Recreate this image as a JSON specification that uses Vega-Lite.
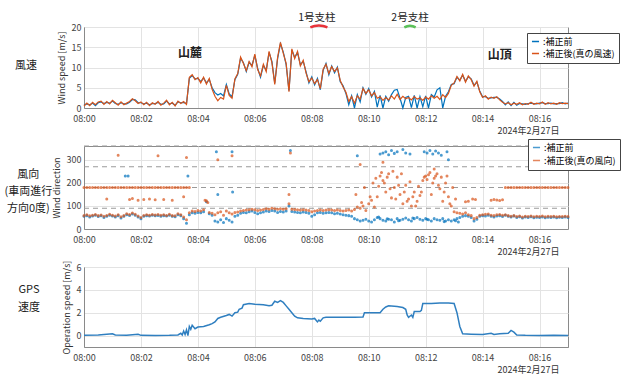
{
"$schema": "https://vega.github.io/schema/vega-lite/v6.json",
"padding": {"left": 3, "top": 12, "right": 2, "bottom": 2},
"bounds": "flush",
"spacing": 38,
"resolve": {"scale": {"color": "independent"}},
"config": {
  "font": "Noto Sans CJK JP",
  "view": {"stroke": "#8a8a8a", "strokeWidth": 1},
  "axis": {"labelFontSize": 9, "labelColor": "#444", "titleFontSize": 9, "titleFontWeight": "normal", "titleColor": "#333", "gridColor": "#e3e3e3", "domainColor": "#8a8a8a", "ticks": false, "labelPadding": 3, "labelFlush": false},
  "title": {"fontWeight": "normal", "color": "#222"}
},
"datasets": {
"ws": [
{"m":0,"a":0.7,"b":0.5},{"m":0.1,"a":1.0,"b":1.2},{"m":0.2,"a":0.8,"b":0.6},{"m":0.3,"a":1.2,"b":1.4},{"m":0.4,"a":0.6,"b":0.8},{"m":0.5,"a":1.3,"b":1.5},{"m":0.6,"a":1.5,"b":1.7},{"m":0.7,"a":1.1,"b":0.9},{"m":0.8,"a":1.4,"b":1.6},{"m":0.9,"a":1.2,"b":1.0},
{"m":1.0,"a":1.7,"b":1.9},{"m":1.1,"a":1.1,"b":1.3},{"m":1.2,"a":0.9,"b":0.7},{"m":1.3,"a":1.3,"b":1.5},{"m":1.4,"a":1.0,"b":0.8},{"m":1.5,"a":1.0,"b":1.2},{"m":1.6,"a":1.4,"b":1.6},{"m":1.7,"a":2.1,"b":2.3},{"m":1.8,"a":2.0,"b":1.8},{"m":1.9,"a":1.3,"b":1.1},
{"m":2.0,"a":1.3,"b":1.5},{"m":2.1,"a":1.0,"b":0.8},{"m":2.2,"a":1.2,"b":1.4},{"m":2.3,"a":0.8,"b":0.6},{"m":2.4,"a":1.1,"b":1.3},{"m":2.5,"a":1.1,"b":0.9},{"m":2.6,"a":1.4,"b":1.6},{"m":2.7,"a":0.9,"b":0.7},{"m":2.8,"a":1.0,"b":1.2},{"m":2.9,"a":1.7,"b":1.9},
{"m":3.0,"a":1.0,"b":0.8},{"m":3.1,"a":1.2,"b":1.4},{"m":3.2,"a":0.7,"b":0.5},{"m":3.3,"a":1.5,"b":1.7},{"m":3.4,"a":1.3,"b":1.1},{"m":3.5,"a":1.4,"b":1.6},{"m":3.6,"a":1.1,"b":0.9},{"m":3.7,"a":7.3,"b":7.6},{"m":3.8,"a":8.0,"b":8.2},{"m":3.9,"a":7.2,"b":7.0},
{"m":4.0,"a":7.3,"b":7.5},{"m":4.1,"a":6.5,"b":6.2},{"m":4.2,"a":7.4,"b":7.6},{"m":4.3,"a":6.2,"b":5.9},{"m":4.4,"a":7.0,"b":7.3},{"m":4.5,"a":5.0,"b":4.6},{"m":4.6,"a":3.8,"b":2.9},{"m":4.7,"a":3.2,"b":1.8},{"m":4.8,"a":3.6,"b":2.6},{"m":4.9,"a":3.0,"b":2.2},
{"m":5.0,"a":5.8,"b":5.6},{"m":5.1,"a":3.5,"b":3.1},{"m":5.2,"a":2.8,"b":2.4},{"m":5.3,"a":7.0,"b":7.2},{"m":5.4,"a":8.3,"b":8.5},{"m":5.5,"a":12.3,"b":12.6},{"m":5.6,"a":11.2,"b":11.0},{"m":5.7,"a":9.0,"b":9.2},{"m":5.8,"a":11.3,"b":11.5},{"m":5.9,"a":10.5,"b":10.2},
{"m":6.0,"a":13.0,"b":13.3},{"m":6.1,"a":9.8,"b":9.5},{"m":6.2,"a":7.6,"b":7.9},{"m":6.3,"a":10.5,"b":10.8},{"m":6.4,"a":9.3,"b":9.0},{"m":6.5,"a":13.7,"b":14.0},{"m":6.6,"a":11.5,"b":11.2},{"m":6.7,"a":6.1,"b":5.8},{"m":6.8,"a":12.2,"b":12.5},{"m":6.9,"a":15.9,"b":16.2},
{"m":7.0,"a":13.8,"b":13.5},{"m":7.1,"a":10.7,"b":11.0},{"m":7.2,"a":4.3,"b":4.0},{"m":7.3,"a":14.3,"b":14.6},{"m":7.4,"a":12.5,"b":12.2},{"m":7.5,"a":13.7,"b":14.0},{"m":7.6,"a":10.7,"b":10.4},{"m":7.7,"a":11.5,"b":11.8},{"m":7.8,"a":8.9,"b":8.6},{"m":7.9,"a":6.2,"b":6.5},
{"m":8.0,"a":7.7,"b":7.4},{"m":8.1,"a":5.7,"b":6.0},{"m":8.2,"a":7.3,"b":7.0},{"m":8.3,"a":4.5,"b":4.8},{"m":8.4,"a":9.3,"b":9.6},{"m":8.5,"a":11.0,"b":10.8},{"m":8.6,"a":8.2,"b":8.5},{"m":8.7,"a":10.4,"b":10.2},{"m":8.8,"a":8.7,"b":9.0},{"m":8.9,"a":10.1,"b":9.9},
{"m":9.0,"a":6.5,"b":6.8},{"m":9.1,"a":5.5,"b":5.2},{"m":9.2,"a":3.6,"b":3.9},{"m":9.3,"a":0.8,"b":1.6},{"m":9.4,"a":3.0,"b":2.8},{"m":9.5,"a":0.0,"b":1.2},{"m":9.6,"a":3.3,"b":3.0},{"m":9.7,"a":1.5,"b":2.2},{"m":9.8,"a":5.0,"b":4.8},{"m":9.9,"a":3.4,"b":3.6},
{"m":10.0,"a":4.8,"b":4.5},{"m":10.1,"a":2.7,"b":3.0},{"m":10.2,"a":4.1,"b":3.8},{"m":10.3,"a":0.2,"b":2.4},{"m":10.4,"a":3.1,"b":2.8},{"m":10.5,"a":0.0,"b":1.9},{"m":10.6,"a":2.9,"b":2.6},{"m":10.7,"a":1.7,"b":2.0},{"m":10.8,"a":3.3,"b":3.0},{"m":10.9,"a":4.4,"b":2.2},
{"m":11.0,"a":4.6,"b":3.4},{"m":11.1,"a":2.4,"b":2.1},{"m":11.2,"a":0.0,"b":2.9},{"m":11.3,"a":2.6,"b":2.3},{"m":11.4,"a":2.9,"b":2.6},{"m":11.5,"a":0.1,"b":2.0},{"m":11.6,"a":3.1,"b":2.8},{"m":11.7,"a":0.0,"b":2.2},{"m":11.8,"a":2.8,"b":2.5},{"m":11.9,"a":0.3,"b":1.9},
{"m":12.0,"a":3.0,"b":2.7},{"m":12.1,"a":0.0,"b":2.2},{"m":12.2,"a":3.3,"b":3.0},{"m":12.3,"a":2.7,"b":2.4},{"m":12.4,"a":4.5,"b":2.9},{"m":12.5,"a":5.0,"b":2.1},{"m":12.6,"a":0.0,"b":3.3},{"m":12.7,"a":2.9,"b":2.6},{"m":12.8,"a":4.0,"b":3.6},{"m":12.9,"a":5.8,"b":5.6},
{"m":13.0,"a":6.0,"b":6.2},{"m":13.1,"a":7.6,"b":7.8},{"m":13.2,"a":6.9,"b":6.7},{"m":13.3,"a":8.1,"b":8.3},{"m":13.4,"a":6.6,"b":6.4},{"m":13.5,"a":7.7,"b":7.9},{"m":13.6,"a":7.2,"b":7.0},{"m":13.7,"a":5.6,"b":5.4},{"m":13.8,"a":6.4,"b":6.6},{"m":13.9,"a":4.2,"b":4.0},
{"m":14.0,"a":2.8,"b":2.6},{"m":14.1,"a":2.8,"b":3.0},{"m":14.2,"a":2.4,"b":2.2},{"m":14.3,"a":2.5,"b":2.7},{"m":14.4,"a":2.6,"b":2.4},{"m":14.5,"a":2.6,"b":2.8},{"m":14.6,"a":2.2,"b":2.0},{"m":14.7,"a":1.6,"b":1.4},{"m":14.8,"a":0.8,"b":1.0},{"m":14.9,"a":1.5,"b":1.3},
{"m":15.0,"a":0.6,"b":0.8},{"m":15.1,"a":1.4,"b":1.2},{"m":15.2,"a":0.7,"b":0.9},{"m":15.3,"a":1.1,"b":1.3},{"m":15.4,"a":1.0,"b":0.8},{"m":15.5,"a":0.9,"b":1.1},{"m":15.6,"a":1.1,"b":0.9},{"m":15.7,"a":1.2,"b":1.4},{"m":15.8,"a":1.1,"b":0.9},{"m":15.9,"a":1.0,"b":1.2},
{"m":16.0,"a":1.2,"b":1.0},{"m":16.1,"a":1.3,"b":1.5},{"m":16.2,"a":1.1,"b":0.9},{"m":16.3,"a":1.1,"b":1.3},{"m":16.4,"a":1.2,"b":1.0},{"m":16.5,"a":1.0,"b":1.2},{"m":16.6,"a":1.1,"b":0.9},{"m":16.7,"a":1.1,"b":1.3},{"m":16.8,"a":1.3,"b":1.1},{"m":16.9,"a":1.0,"b":1.2},{"m":17.0,"a":1.2,"b":1.1}
],
"ann": [
{"m":3.72,"v":13.6,"t":"山麓","k":"big"},{"m":14.6,"v":13.1,"t":"山頂","k":"big"},
{"m":8.18,"v":22.3,"t":"1号支柱","k":"small"},{"m":11.45,"v":22.3,"t":"2号支柱","k":"small"}
],
"arc": [
{"m":7.95,"v":19.9,"g":"r"},{"m":8.1,"v":20.25,"g":"r"},{"m":8.25,"v":20.35,"g":"r"},{"m":8.4,"v":20.25,"g":"r"},{"m":8.55,"v":19.9,"g":"r"},
{"m":11.25,"v":19.9,"g":"g"},{"m":11.35,"v":20.2,"g":"g"},{"m":11.45,"v":20.3,"g":"g"},{"m":11.55,"v":20.2,"g":"g"},{"m":11.65,"v":19.9,"g":"g"}
],
"wd": [
{"m":0,"a":55,"b":58},{"m":0.1,"a":58,"b":62},{"m":0.2,"a":52,"b":57},{"m":0.3,"a":56,"b":60},{"m":0.4,"a":60,"b":63},{"m":0.5,"a":54,"b":58},{"m":0.6,"a":57,"b":61},{"m":0.7,"a":50,"b":55},{"m":0.8,"a":55,"b":59},{"m":0.9,"a":60,"b":64},
{"m":1.0,"a":56,"b":60},{"m":1.1,"a":52,"b":56},{"m":1.2,"a":58,"b":62},{"m":1.3,"a":48,"b":53},{"m":1.4,"a":55,"b":58},{"m":1.5,"a":62,"b":66},{"m":1.6,"a":59,"b":63},{"m":1.7,"a":65,"b":69},{"m":1.8,"a":60,"b":64},{"m":1.9,"a":52,"b":56},
{"m":2.0,"a":45,"b":50},{"m":2.1,"a":55,"b":59},{"m":2.2,"a":58,"b":62},{"m":2.3,"a":56,"b":60},{"m":2.4,"a":60,"b":63},{"m":2.5,"a":57,"b":61},{"m":2.6,"a":59,"b":63},{"m":2.7,"a":55,"b":60},{"m":2.8,"a":58,"b":62},{"m":2.9,"a":56,"b":59},
{"m":3.0,"a":60,"b":64},{"m":3.1,"a":55,"b":58},{"m":3.2,"a":53,"b":57},{"m":3.3,"a":62,"b":66},{"m":3.4,"a":58,"b":62},{"m":3.5,"a":45,"b":52},{"m":3.6,"a":25,"b":40},{"m":3.7,"a":62,"b":70},{"m":3.8,"a":70,"b":78},{"m":3.9,"a":68,"b":76},
{"m":4.0,"a":72,"b":80},{"m":4.1,"a":70,"b":78},{"m":4.2,"a":75,"b":83},{"m":4.3,"a":118,"b":122},{"m":4.4,"a":66,"b":72},{"m":4.5,"a":60,"b":68},{"m":4.6,"a":35,"b":62},{"m":4.7,"a":30,"b":70},{"m":4.8,"a":40,"b":75},{"m":4.9,"a":28,"b":60},
{"m":5.0,"a":45,"b":78},{"m":5.1,"a":38,"b":70},{"m":5.2,"a":30,"b":65},{"m":5.3,"a":55,"b":72},{"m":5.4,"a":60,"b":74},{"m":5.5,"a":68,"b":78},{"m":5.6,"a":72,"b":80},{"m":5.7,"a":70,"b":82},{"m":5.8,"a":75,"b":84},{"m":5.9,"a":78,"b":86},
{"m":6.0,"a":72,"b":84},{"m":6.1,"a":66,"b":80},{"m":6.2,"a":70,"b":82},{"m":6.3,"a":74,"b":85},{"m":6.4,"a":78,"b":88},{"m":6.5,"a":76,"b":86},{"m":6.6,"a":80,"b":90},{"m":6.7,"a":78,"b":88},{"m":6.8,"a":72,"b":86},{"m":6.9,"a":76,"b":88},
{"m":7.0,"a":74,"b":86},{"m":7.1,"a":78,"b":88},{"m":7.2,"a":100,"b":110},{"m":7.3,"a":76,"b":86},{"m":7.4,"a":74,"b":85},{"m":7.5,"a":72,"b":84},{"m":7.6,"a":70,"b":82},{"m":7.7,"a":74,"b":84},{"m":7.8,"a":72,"b":82},{"m":7.9,"a":68,"b":80},
{"m":8.0,"a":55,"b":75},{"m":8.1,"a":62,"b":78},{"m":8.2,"a":70,"b":80},{"m":8.3,"a":72,"b":82},{"m":8.4,"a":68,"b":80},{"m":8.5,"a":70,"b":82},{"m":8.6,"a":72,"b":84},{"m":8.7,"a":70,"b":82},{"m":8.8,"a":66,"b":80},{"m":8.9,"a":68,"b":82},
{"m":9.0,"a":65,"b":80},{"m":9.1,"a":62,"b":78},{"m":9.2,"a":60,"b":80},{"m":9.3,"a":58,"b":82},{"m":9.4,"a":55,"b":78},{"m":9.5,"a":45,"b":85},{"m":9.6,"a":40,"b":95},{"m":9.7,"a":35,"b":90},{"m":9.8,"a":38,"b":100},{"m":9.9,"a":42,"b":80},
{"m":10.0,"a":35,"b":110},{"m":10.1,"a":30,"b":125},{"m":10.2,"a":40,"b":95},{"m":10.3,"a":50,"b":140},{"m":10.4,"a":45,"b":230},{"m":10.5,"a":38,"b":210},{"m":10.6,"a":35,"b":160},{"m":10.7,"a":42,"b":240},{"m":10.8,"a":40,"b":135},{"m":10.9,"a":30,"b":180},
{"m":11.0,"a":45,"b":225},{"m":11.1,"a":38,"b":150},{"m":11.2,"a":42,"b":110},{"m":11.3,"a":48,"b":190},{"m":11.4,"a":40,"b":130},{"m":11.5,"a":35,"b":100},{"m":11.6,"a":45,"b":160},{"m":11.7,"a":50,"b":120},{"m":11.8,"a":42,"b":145},{"m":11.9,"a":38,"b":210},
{"m":12.0,"a":45,"b":230},{"m":12.1,"a":40,"b":235},{"m":12.2,"a":35,"b":150},{"m":12.3,"a":45,"b":220},{"m":12.4,"a":40,"b":240},{"m":12.5,"a":38,"b":175},{"m":12.6,"a":45,"b":120},{"m":12.7,"a":35,"b":200},{"m":12.8,"a":40,"b":140},{"m":12.9,"a":35,"b":100},
{"m":13.0,"a":40,"b":75},{"m":13.1,"a":45,"b":70},{"m":13.2,"a":50,"b":68},{"m":13.3,"a":55,"b":65},{"m":13.4,"a":58,"b":70},{"m":13.5,"a":55,"b":62},{"m":13.6,"a":50,"b":58},{"m":13.7,"a":35,"b":45},{"m":13.8,"a":42,"b":50},{"m":13.9,"a":55,"b":60},
{"m":14.0,"a":58,"b":62},{"m":14.1,"a":56,"b":64},{"m":14.2,"a":60,"b":65},{"m":14.3,"a":55,"b":60},{"m":14.4,"a":52,"b":58},{"m":14.5,"a":56,"b":62},{"m":14.6,"a":58,"b":63},{"m":14.7,"a":54,"b":60},{"m":14.8,"a":60,"b":62},{"m":14.9,"a":55,"b":58},
{"m":15.0,"a":52,"b":55},{"m":15.1,"a":56,"b":58},{"m":15.2,"a":50,"b":54},{"m":15.3,"a":53,"b":56},{"m":15.4,"a":48,"b":52},{"m":15.5,"a":52,"b":55},{"m":15.6,"a":50,"b":54},{"m":15.7,"a":53,"b":56},{"m":15.8,"a":49,"b":53},{"m":15.9,"a":51,"b":55},
{"m":16.0,"a":50,"b":54},{"m":16.1,"a":52,"b":56},{"m":16.2,"a":49,"b":53},{"m":16.3,"a":51,"b":55},{"m":16.4,"a":50,"b":54},{"m":16.5,"a":52,"b":55},{"m":16.6,"a":49,"b":53},{"m":16.7,"a":51,"b":54},{"m":16.8,"a":50,"b":54},{"m":16.9,"a":52,"b":55},{"m":17.0,"a":50,"b":54},
{"m":1.45,"a":230},{"m":1.55,"a":230},{"m":3.65,"a":230},{"m":4.65,"a":335},{"m":4.7,"a":150},{"m":5.2,"a":335},{"m":5.22,"a":160},{"m":7.25,"a":340},{"m":9.6,"a":318},
{"m":10.4,"a":325},{"m":10.5,"a":330},{"m":10.6,"a":335},{"m":10.7,"a":322},{"m":10.8,"a":340},{"m":10.9,"a":328},{"m":11.0,"a":335},{"m":11.2,"a":345},{"m":11.3,"a":330},{"m":11.45,"a":325},
{"m":11.95,"a":335},{"m":12.05,"a":330},{"m":12.15,"a":340},{"m":12.25,"a":325},{"m":12.35,"a":338},{"m":12.45,"a":330},{"m":12.55,"a":320},{"m":12.75,"a":335},{"m":12.8,"a":300},
{"m":10.35,"a":52},{"m":10.65,"a":44},{"m":11.05,"a":36},{"m":11.55,"a":48},{"m":12.05,"a":42},{"m":12.65,"a":32},{"m":13.05,"a":36},{"m":13.15,"a":30},
{"m":1.2,"b":320},{"m":2.6,"b":318},{"m":3.6,"b":310},{"m":4.7,"b":300},{"m":5.2,"b":318},{"m":7.25,"b":330},
{"m":0.8,"b":130},{"m":1.6,"b":128},{"m":1.7,"b":132},{"m":1.9,"b":125},{"m":2.1,"b":128},{"m":2.3,"b":130},{"m":2.5,"b":127},{"m":2.8,"b":128},{"m":3.1,"b":125},{"m":3.5,"b":140},{"m":4.25,"b":125},{"m":4.35,"b":115},{"m":7.2,"b":150},
{"m":9.55,"b":150},{"m":9.75,"b":115},{"m":9.85,"b":180},{"m":10.05,"b":140},{"m":10.15,"b":200},{"m":10.25,"b":220},{"m":10.35,"b":185},{"m":10.45,"b":245},{"m":10.55,"b":200},{"m":10.65,"b":225},{"m":10.75,"b":175},{"m":10.85,"b":250},{"m":10.95,"b":130},
{"m":11.05,"b":190},{"m":11.15,"b":240},{"m":11.25,"b":160},{"m":11.35,"b":120},{"m":11.45,"b":205},{"m":11.55,"b":140},{"m":11.65,"b":100},{"m":11.75,"b":185},{"m":11.85,"b":160},{"m":11.95,"b":225},
{"m":12.05,"b":215},{"m":12.15,"b":245},{"m":12.25,"b":200},{"m":12.35,"b":230},{"m":12.45,"b":190},{"m":12.55,"b":225},{"m":12.65,"b":160},{"m":12.75,"b":230},{"m":12.85,"b":110},{"m":12.95,"b":180},{"m":13.05,"b":130},
{"m":13.4,"b":118},{"m":13.5,"b":120},{"m":13.65,"b":130},{"m":13.75,"b":128},{"m":14.3,"b":125},{"m":14.4,"b":128},{"m":14.5,"b":126},{"m":14.6,"b":124},{"m":14.7,"b":127},{"m":9.7,"b":280},{"m":10.5,"b":290},{"m":12.3,"b":260},
{"m":0,"b":180},{"m":0.1,"b":180},{"m":0.2,"b":180},{"m":0.3,"b":180},{"m":0.4,"b":180},{"m":0.5,"b":180},{"m":0.6,"b":180},{"m":0.7,"b":180},{"m":0.8,"b":180},{"m":0.9,"b":180},
{"m":1.0,"b":180},{"m":1.1,"b":180},{"m":1.2,"b":180},{"m":1.3,"b":180},{"m":1.4,"b":180},{"m":1.5,"b":180},{"m":1.6,"b":180},{"m":1.7,"b":180},{"m":1.8,"b":180},{"m":1.9,"b":180},
{"m":2.0,"b":180},{"m":2.1,"b":180},{"m":2.2,"b":180},{"m":2.3,"b":180},{"m":2.4,"b":180},{"m":2.5,"b":180},{"m":2.6,"b":180},{"m":2.7,"b":180},{"m":2.8,"b":180},{"m":2.9,"b":180},
{"m":3.0,"b":180},{"m":3.1,"b":180},{"m":3.2,"b":180},{"m":3.3,"b":180},{"m":3.4,"b":180},{"m":3.5,"b":180},{"m":3.6,"b":180},{"m":3.7,"b":180},
{"m":14.8,"b":180},{"m":14.9,"b":180},{"m":15.0,"b":180},{"m":15.1,"b":180},{"m":15.2,"b":180},{"m":15.3,"b":180},{"m":15.4,"b":180},{"m":15.5,"b":180},{"m":15.6,"b":180},{"m":15.7,"b":180},{"m":15.8,"b":180},{"m":15.9,"b":180},
{"m":16.0,"b":180},{"m":16.1,"b":180},{"m":16.2,"b":180},{"m":16.3,"b":180},{"m":16.4,"b":180},{"m":16.5,"b":180},{"m":16.6,"b":180},{"m":16.7,"b":180},{"m":16.8,"b":180},{"m":16.9,"b":180},{"m":17.0,"b":180}
],
"ref": [{"m":0,"m2":17,"v":90},{"m":0,"m2":17,"v":180},{"m":0,"m2":17,"v":270},{"m":0,"m2":17,"v":360}],
"gps": [
{"m":0,"v":0.02},{"m":0.5,"v":0.05},{"m":1.0,"v":0.15},{"m":1.1,"v":0.05},{"m":1.5,"v":0.03},{"m":1.9,"v":0.12},{"m":2.0,"v":0.02},{"m":2.5,"v":0.0},{"m":3.0,"v":0.02},{"m":3.3,"v":0.05},
{"m":3.4,"v":0.2},{"m":3.45,"v":0.05},{"m":3.5,"v":0.4},{"m":3.55,"v":0.1},{"m":3.6,"v":0.5},{"m":3.65,"v":0.0},{"m":3.7,"v":0.8},{"m":3.75,"v":0.55},{"m":3.8,"v":0.9},{"m":3.9,"v":0.6},
{"m":4.0,"v":0.75},{"m":4.2,"v":0.8},{"m":4.4,"v":0.95},{"m":4.5,"v":1.05},{"m":4.6,"v":1.2},{"m":4.7,"v":1.5},{"m":4.8,"v":1.6},{"m":5.0,"v":1.75},{"m":5.1,"v":1.85},{"m":5.2,"v":1.7},
{"m":5.3,"v":2.0},{"m":5.4,"v":2.05},{"m":5.45,"v":2.3},{"m":5.55,"v":2.4},{"m":5.6,"v":2.7},{"m":5.8,"v":2.8},{"m":6.0,"v":2.75},{"m":6.3,"v":2.7},{"m":6.5,"v":2.6},{"m":6.6,"v":2.65},
{"m":6.7,"v":3.0},{"m":6.8,"v":2.9},{"m":6.9,"v":3.05},{"m":7.0,"v":2.9},{"m":7.1,"v":2.6},{"m":7.2,"v":2.3},{"m":7.3,"v":2.0},{"m":7.4,"v":1.7},{"m":7.5,"v":1.55},{"m":7.7,"v":1.5},
{"m":8.0,"v":1.45},{"m":8.1,"v":1.5},{"m":8.2,"v":1.2},{"m":8.25,"v":1.35},{"m":8.3,"v":1.25},{"m":8.4,"v":1.55},{"m":8.5,"v":1.6},{"m":9.0,"v":1.6},{"m":9.5,"v":1.6},{"m":9.8,"v":1.62},
{"m":9.85,"v":2.0},{"m":10.2,"v":2.0},{"m":10.4,"v":2.0},{"m":10.5,"v":2.3},{"m":10.6,"v":2.5},{"m":10.7,"v":2.6},{"m":11.0,"v":2.55},{"m":11.2,"v":2.45},{"m":11.3,"v":2.3},{"m":11.35,"v":1.8},
{"m":11.4,"v":1.6},{"m":11.5,"v":1.8},{"m":11.55,"v":1.6},{"m":11.6,"v":2.1},{"m":11.8,"v":2.1},{"m":11.85,"v":2.2},{"m":11.9,"v":2.8},{"m":12.2,"v":2.8},{"m":12.5,"v":2.85},{"m":12.8,"v":2.85},
{"m":13.0,"v":2.8},{"m":13.1,"v":2.0},{"m":13.2,"v":0.8},{"m":13.3,"v":0.15},{"m":13.6,"v":0.12},{"m":14.0,"v":0.1},{"m":14.3,"v":0.2},{"m":14.4,"v":0.1},{"m":14.6,"v":0.15},{"m":14.9,"v":0.2},
{"m":15.0,"v":0.45},{"m":15.1,"v":0.3},{"m":15.2,"v":0.05},{"m":15.5,"v":0.02},{"m":16.0,"v":0.0},{"m":16.5,"v":0.02},{"m":17.0,"v":0.0}
]
},
"vconcat": [
{
  "width": 484, "height": 81,
  "title": {"text": "風速", "orient": "left", "angle": 0, "align": "center", "baseline": "middle", "offset": 9, "dy": -2, "fontSize": 11},
  "encoding": {
    "x": {"field": "m", "type": "quantitative", "scale": {"domain": [0, 17], "nice": false, "zero": false},
          "axis": {"values": [0,2,4,6,8,10,12,14,16], "labelExpr": "'08:' + (datum.value < 10 ? '0' : '') + datum.value", "title": "2024年2月27日", "titleX": 475, "titleY": 22, "titleAlign": "right", "titleBaseline": "middle", "labelPadding": 6}},
    "y": {"field": "v", "type": "quantitative", "scale": {"domain": [0, 20], "nice": false},
          "axis": {"values": [0,5,10,15,20], "title": "Wind speed [m/s]", "titlePadding": 5}}
  },
  "layer": [
    {"data": {"name": "ws"}, "transform": [{"fold": ["a", "b"], "as": ["s", "v"]}],
     "mark": {"type": "line", "strokeWidth": 1.2},
     "encoding": {"color": {"field": "s", "type": "nominal", "scale": {"domain": ["a", "b"], "range": ["#0072BD", "#D95319"]},
       "legend": {"title": null, "orient": "none", "legendX": 443, "legendY": 6, "labelExpr": "datum.label == 'a' ? ':補正前' : ':補正後(真の風速)'", "symbolType": "stroke", "symbolSize": 50, "symbolStrokeWidth": 1.5, "labelFontSize": 9, "labelOffset": 3, "padding": 4, "rowPadding": 2, "strokeColor": "#444", "fillColor": "white", "labelLimit": 200}}}},
    {"data": {"name": "ann"}, "transform": [{"filter": "datum.k == 'big'"}],
     "mark": {"type": "text", "fontSize": 12, "fontWeight": "bold", "color": "#222"},
     "encoding": {"text": {"field": "t"}}},
    {"data": {"name": "ann"}, "transform": [{"filter": "datum.k == 'small'"}],
     "mark": {"type": "text", "fontSize": 10.5, "color": "#222"},
     "encoding": {"text": {"field": "t"}}},
    {"data": {"name": "arc"}, "transform": [{"filter": "datum.g == 'r'"}],
     "mark": {"type": "line", "strokeWidth": 2.5, "color": "#e8333a", "interpolate": "monotone"}, "encoding": {}},
    {"data": {"name": "arc"}, "transform": [{"filter": "datum.g == 'g'"}],
     "mark": {"type": "line", "strokeWidth": 2.5, "color": "#5cc15a", "interpolate": "monotone"}, "encoding": {}}
  ]
},
{
  "width": 484, "height": 83,
  "title": {"text": ["風向", "(車両進行", "方向0度)"], "orient": "left", "angle": 0, "align": "center", "baseline": "middle", "offset": -24, "dy": -13, "fontSize": 11, "lineHeight": 17},
  "encoding": {
    "x": {"field": "m", "type": "quantitative", "scale": {"domain": [0, 17], "nice": false, "zero": false},
          "axis": {"values": [0,2,4,6,8,10,12,14,16], "labelExpr": "'08:' + (datum.value < 10 ? '0' : '') + datum.value", "title": "2024年2月27日", "titleX": 475, "titleY": 22, "titleAlign": "right", "titleBaseline": "middle", "labelPadding": 6}},
    "y": {"field": "v", "type": "quantitative", "scale": {"domain": [0, 360], "nice": false},
          "axis": {"values": [0,100,200,300], "title": "Wind direction", "titlePadding": 5}}
  },
  "layer": [
    {"data": {"name": "ref"}, "mark": {"type": "rule", "color": "#9a9a9a", "strokeDash": [5, 4], "strokeWidth": 1},
     "encoding": {"x2": {"field": "m2"}}},
    {"data": {"name": "wd"}, "transform": [{"fold": ["a", "b"], "as": ["s", "v"]}],
     "mark": {"type": "point", "filled": false, "size": 2, "strokeWidth": 1.6},
     "encoding": {"color": {"field": "s", "type": "nominal", "scale": {"domain": ["a", "b"], "range": ["#0072BD", "#D95319"]},
       "legend": {"title": null, "orient": "none", "legendX": 444, "legendY": -7, "labelExpr": "datum.label == 'a' ? ':補正前' : ':補正後(真の風向)'", "symbolType": "stroke", "symbolSize": 50, "symbolStrokeWidth": 1.5, "labelFontSize": 9, "labelOffset": 3, "padding": 4, "rowPadding": 3, "strokeColor": "#444", "fillColor": "white", "labelLimit": 200}}}}
  ]
},
{
  "width": 484, "height": 80,
  "title": {"text": ["GPS", "速度"], "orient": "left", "angle": 0, "align": "center", "baseline": "middle", "offset": 11, "fontSize": 11, "lineHeight": 18, "dy": -17},
  "data": {"name": "gps"},
  "mark": {"type": "line", "color": "#2F7FC0", "strokeWidth": 1.5},
  "encoding": {
    "x": {"field": "m", "type": "quantitative", "scale": {"domain": [0, 17], "nice": false, "zero": false},
          "axis": {"values": [0,2,4,6,8,10,12,14,16], "labelExpr": "'08:' + (datum.value < 10 ? '0' : '') + datum.value", "title": "2024年2月27日", "titleX": 475, "titleY": 22, "titleAlign": "right", "titleBaseline": "middle", "labelPadding": 6}},
    "y": {"field": "v", "type": "quantitative", "scale": {"domain": [-1, 6], "nice": false, "zero": false},
          "axis": {"values": [0,2,4,6], "title": "Operation speed [m/s]", "titlePadding": 5}}
  }
}
]
}
